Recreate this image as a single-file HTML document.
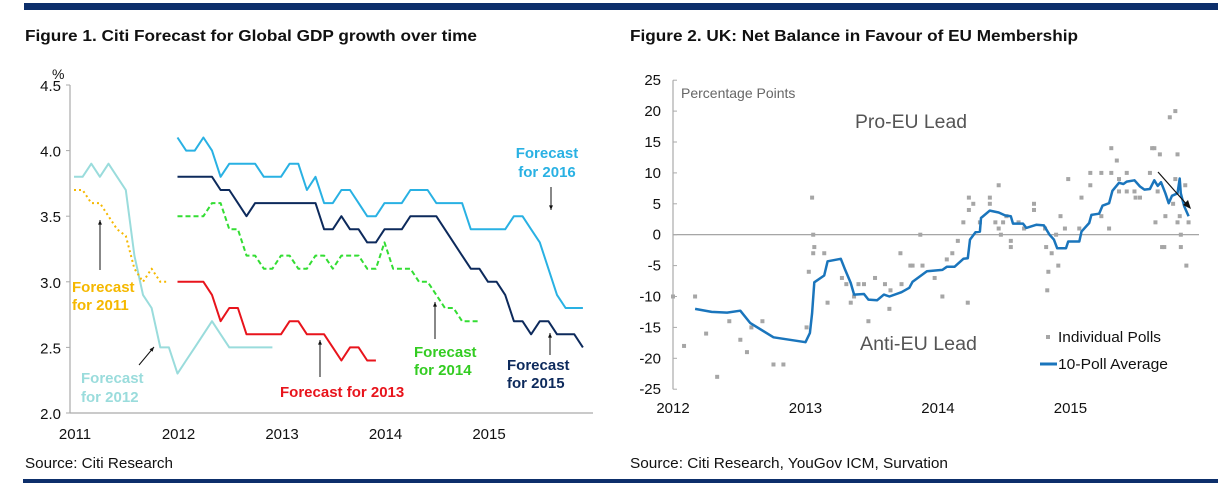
<!DOCTYPE html>
<html><head><meta charset="utf-8"><style>
html,body{margin:0;padding:0;background:#fff;}
svg{display:block;font-family:"Liberation Sans",Arial,sans-serif;}
</style></head><body>
<svg id="c" width="1218" height="490" viewBox="0 0 1218 490">
<rect x="24" y="3" width="1194" height="7" fill="#0d2f6b"/>
<rect x="23" y="479" width="1195" height="4" fill="#0d2f6b"/>
<text x="25" y="41" font-size="16" font-weight="bold" textLength="452" lengthAdjust="spacingAndGlyphs" fill="#111">Figure 1. Citi Forecast for Global GDP growth over time</text>
<text x="630" y="41" font-size="16" font-weight="bold" textLength="448" lengthAdjust="spacingAndGlyphs" fill="#111">Figure 2. UK: Net Balance in Favour of EU Membership</text>
<text x="25" y="468" font-size="15" textLength="148" lengthAdjust="spacingAndGlyphs" fill="#111">Source: Citi Research</text>
<text x="630" y="468" font-size="15" textLength="318" lengthAdjust="spacingAndGlyphs" fill="#111">Source: Citi Research, YouGov ICM, Survation</text>
<g id="left"></g>
<g id="right"></g>
</svg>
<script>
// ---- Figure 1 data (monthly values) ----
const yTicksL = [2.0, 2.5, 3.0, 3.5, 4.0, 4.5];
const yearsL = [2011, 2012, 2013, 2014, 2015];
const f2011 = [3.7,3.7,3.6,3.6,3.5,3.4,3.35,3.1,3.0,3.1,3.0,3.0]; // from Jan 2011
const f2012 = [3.8,3.8,3.9,3.8,3.9,3.8,3.7,3.2,2.9,2.8,2.5,2.5,2.3,2.4,2.5,2.6,2.7,2.6,2.5,2.5,2.5,2.5,2.5,2.5]; // from Jan 2011
const f2013 = [3.0,3.0,3.0,3.0,2.9,2.7,2.8,2.8,2.6,2.6,2.6,2.6,2.6,2.7,2.7,2.6,2.6,2.6,2.5,2.4,2.5,2.5,2.4,2.4]; // from Jan 2012
const f2014 = [3.5,3.5,3.5,3.5,3.6,3.6,3.4,3.4,3.2,3.2,3.1,3.1,3.2,3.2,3.1,3.1,3.2,3.2,3.1,3.2,3.2,3.2,3.1,3.1,3.3,3.1,3.1,3.1,3.0,3.0,2.9,2.8,2.8,2.7,2.7,2.7];
const f2015 = [3.8,3.8,3.8,3.8,3.8,3.7,3.7,3.6,3.5,3.6,3.6,3.6,3.6,3.6,3.6,3.6,3.6,3.4,3.4,3.5,3.4,3.4,3.3,3.3,3.4,3.4,3.4,3.5,3.5,3.5,3.5,3.4,3.3,3.2,3.1,3.1,3.0,3.0,2.9,2.7,2.7,2.6,2.7,2.7,2.6,2.6,2.6,2.5];
const f2016 = [4.1,4.0,4.0,4.1,4.0,3.8,3.9,3.9,3.9,3.9,3.8,3.8,3.8,3.9,3.9,3.7,3.8,3.6,3.6,3.7,3.7,3.6,3.5,3.5,3.6,3.6,3.6,3.7,3.7,3.7,3.6,3.6,3.6,3.6,3.4,3.4,3.4,3.4,3.4,3.5,3.5,3.4,3.3,3.1,2.9,2.8,2.8,2.8];

// ---- Figure 2 data ----
const yTicksR = [25,20,15,10,5,0,-5,-10,-15,-20,-25];
const yearsR = [2012, 2013, 2014, 2015];
const avgMonth = [2.0,3.5,4.9,6.1,7.0,9.1,12.0,12.4,12.6,12.8,13.7,14.0,15.2,15.6,16.1,16.4,17.3,17.7,18.5,19.1,19.6,20.7,21.4,21.7,23.0,24.4,24.8,25.5,26.3,26.7,26.9,27.4,27.8,27.9,28.7,29.5,30.1,30.6,30.8,31.7,32.0,32.9,33.6,34.1,34.5,34.8,35.6,35.8,36.8,37.0,37.7,37.9,38.6,38.9,39.5,39.8,40.4,40.8,41.1,41.8,42.3,42.7,43.2,43.6,43.9,44.2,44.6,44.9,45.2,45.7,45.9,46.0,46.3,46.7];
const avgValue = [-12.0,-12.5,-12.6,-12.3,-14.3,-16.6,-17.4,-15.9,-12.7,-7.7,-6.6,-4.3,-3.9,-5.7,-7.8,-9.7,-9.6,-10.5,-10.6,-9.7,-10.0,-9.3,-8.6,-7.6,-5.9,-5.7,-5.2,-5.2,-3.9,-3.8,-0.8,0.4,0.5,2.7,3.9,3.6,3.1,3.0,1.8,1.8,1.1,1.6,1.5,0,-0.8,-2.2,-2.2,-1.1,-1.1,0.5,1.9,3.2,3.4,4.7,5.1,7.1,8.4,8.2,8.6,8.8,7.8,7.3,7.4,8.8,7.9,8.5,6.7,5.1,6.3,6.7,9.1,6.7,4.6,3.0];
const pollMonth = [0,1.0,2.0,3.0,4.0,5.1,6.1,6.7,7.1,8.1,9.1,10.0,12.1,12.3,12.6,12.7,12.7,12.8,13.7,14.0,15.3,15.7,16.1,16.4,16.8,17.3,17.7,18.3,19.2,19.6,19.7,20.6,20.7,21.5,21.7,22.4,22.6,23.7,24.4,24.8,25.3,25.8,26.3,26.7,26.8,26.8,27.2,27.8,28.7,28.7,29.2,29.5,29.5,29.7,29.9,30.2,30.6,30.6,31.3,31.8,32.7,32.7,33.7,33.8,33.9,34.0,34.3,34.7,34.9,35.1,35.5,35.8,36.8,37.0,37.8,37.8,38.8,38.8,39.5,39.7,39.7,40.2,40.4,40.4,41.1,41.1,41.8,41.9,42.3,43.2,43.4,43.6,43.7,43.9,44.1,44.3,44.5,44.6,45.0,45.3,45.5,45.5,45.7,45.7,45.9,46.0,46.0,46.4,46.5,46.7];
const pollValue = [-10,-18,-10,-16,-23,-14,-17,-19,-15,-14,-21,-21,-15,-6,6,0,-3,-2,-3,-11,-7,-8,-11,-10,-8,-8,-14,-7,-8,-12,-9,-3,-8,-5,-5,0,-5,-7,-10,-4,-3,-1,2,-11,6,4,5,2,6,5,2,1,8,0,2,3,-1,-2,2,1,5,4,1,-2,-9,-6,-3,0,-5,3,1,9,1,6,10,8,10,3,1,14,10,12,9,7,10,7,7,6,6,10,14,14,2,7,13,-2,-2,3,19,5,20,9,13,2,3,0,-2,8,-5,2];

const NS = 'http://www.w3.org/2000/svg';
function mk(parent, tag, attrs, text){
  const e = document.createElementNS(NS, tag);
  for (const k in attrs) e.setAttribute(k, attrs[k]);
  if (text !== undefined) e.textContent = text;
  parent.appendChild(e);
  return e;
}

// ===== Figure 1 =====
const L = document.getElementById('left');
const xL = t => 74 + t * 103.5;          // t: years since Jan 2011
const yL = v => 413 - (v - 2) * 131.2;
let e;
e = mk(L,'line',{x1:70,y1:yL(4.5),x2:70,y2:413,stroke:'#aaa','stroke-width':1.2});
 
e = mk(L,'line',{x1:70,y1:413,x2:593,y2:413,stroke:'#aaa','stroke-width':1.2});
 
yTicksL.forEach(v=>{
  e = mk(L,'line',{x1:66,y1:yL(v),x2:70,y2:yL(v),stroke:'#aaa'});
   
  e = mk(L,'text',{x:61,y:yL(v)+6,'font-size':15,'text-anchor':'end',fill:'#111'},v.toFixed(1));
   
});
e = mk(L,'text',{x:52,y:79,'font-size':14,fill:'#111'},'%');
 
yearsL.forEach(y=>{
  e = mk(L,'text',{x:xL(y-2011)+1,y:439,'font-size':15,'text-anchor':'middle',fill:'#111'},String(y));
   
});
function series(arr, startYear, color, dash, name){
  const pts = arr.map((v,i)=>xL(startYear-2011 + i/12).toFixed(1)+','+yL(v).toFixed(1)).join(' ');
  const a = {points:pts,fill:'none',stroke:color,'stroke-width':2,'stroke-linejoin':'round'};
  if (dash) a['stroke-dasharray'] = dash;
  const p = mk(L,'polyline',a);
  
  
}
series(f2012, 2011, '#9adcdc', null, 'line-forecast-2012');
series(f2011, 2011, '#f5b800', '2,3', 'line-forecast-2011');
series(f2013, 2012, '#e8141c', null, 'line-forecast-2013');
series(f2014, 2012, '#33dd33', '5,3', 'line-forecast-2014');
series(f2015, 2012, '#0d2a5c', null, 'line-forecast-2015');
series(f2016, 2012, '#29b1e3', null, 'line-forecast-2016');

function label(x, ys, lines, color, anchor, name){
  const t = mk(L,'text',{x:x,'font-size':15,'font-weight':'bold',fill:color,'text-anchor':anchor});
  
  
  lines.forEach((s,i)=>{ mk(t,'tspan',{x:x,y:ys[i]},s); });
}
function arrow(x1,y1,x2,y2,name){
  const g = mk(L,'g',{});
  
  
  mk(g,'line',{x1:x1,y1:y1,x2:x2,y2:y2,stroke:'#111','stroke-width':1});
  const ang = Math.atan2(y2-y1,x2-x1), s=5;
  const p1 = [x2 - s*Math.cos(ang-0.4), y2 - s*Math.sin(ang-0.4)];
  const p2 = [x2 - s*Math.cos(ang+0.4), y2 - s*Math.sin(ang+0.4)];
  mk(g,'polygon',{points:`${x2},${y2} ${p1[0]},${p1[1]} ${p2[0]},${p2[1]}`,fill:'#111'});
}
label(547,[158,177],['Forecast','for 2016'],'#29b1e3','middle','label-forecast-2016');
arrow(551,187,551,210,'arrow-forecast-2016');
label(507,[370,388],['Forecast','for 2015'],'#0d2a5c','start','label-forecast-2015');
arrow(550,355,550,333,'arrow-forecast-2015');
label(414,[357,375],['Forecast','for 2014'],'#33cc22','start','label-forecast-2014');
arrow(435,339,435,302,'arrow-forecast-2014');
label(280,[397],['Forecast for 2013'],'#e8141c','start','label-forecast-2013');
arrow(320,377,320,340,'arrow-forecast-2013');
label(81,[383,402],['Forecast','for 2012'],'#9adcdc','start','label-forecast-2012');
arrow(139,365,154,347,'arrow-forecast-2012');
label(72,[292,310],['Forecast','for 2011'],'#f5b800','start','label-forecast-2011');
arrow(100,270,100,220,'arrow-forecast-2011');

// ===== Figure 2 =====
const R = document.getElementById('right');
const xR = m => 673 + m * 11.04;   // m: months since Jan 2012
const yR = v => 234.7 - v * 6.18;
e = mk(R,'line',{x1:673,y1:yR(25),x2:673,y2:yR(-25),stroke:'#aaa','stroke-width':1.2});
 
e = mk(R,'line',{x1:673,y1:yR(0),x2:1199,y2:yR(0),stroke:'#999','stroke-width':1.2});
 
yTicksR.forEach(v=>{
  e = mk(R,'line',{x1:673,y1:yR(v),x2:677,y2:yR(v),stroke:'#aaa'});
   
  e = mk(R,'text',{x:661,y:yR(v)+5,'font-size':15,'text-anchor':'end',fill:'#111'},String(v));
   
});
yearsR.forEach(y=>{
  e = mk(R,'text',{x:xR((y-2012)*12),y:413,'font-size':15,'text-anchor':'middle',fill:'#111'},String(y));
   
});
e = mk(R,'text',{x:681,y:98,'font-size':14,fill:'#666'},'Percentage Points');
 
e = mk(R,'text',{x:855,y:128,'font-size':19,fill:'#555',textLength:112,lengthAdjust:'spacingAndGlyphs'},'Pro-EU Lead');
 
e = mk(R,'text',{x:860,y:350,'font-size':19,fill:'#555',textLength:117,lengthAdjust:'spacingAndGlyphs'},'Anti-EU Lead');
 
pollMonth.forEach((m,i)=>{
  e = mk(R,'rect',{x:xR(m)-2,y:yR(pollValue[i])-2,width:4,height:4,fill:'#a6a6a6'});
   
});
e = mk(R,'polyline',{points:avgMonth.map((m,i)=>xR(m).toFixed(1)+','+yR(avgValue[i]).toFixed(1)).join(' '),fill:'none',stroke:'#1a75bc','stroke-width':2.5,'stroke-linejoin':'round'});
 
e = mk(R,'line',{x1:1158,y1:172,x2:1189,y2:207,stroke:'#111','stroke-width':1.2});
 
e = mk(R,'polygon',{points:'1191,209 1183,205 1188,200',fill:'#111'});
 
e = mk(R,'rect',{x:1046,y:335,width:4,height:4,fill:'#a6a6a6'});
 
e = mk(R,'text',{x:1058,y:342,'font-size':15,fill:'#111',textLength:103,lengthAdjust:'spacingAndGlyphs'},'Individual Polls');
 
e = mk(R,'line',{x1:1040,y1:364,x2:1057,y2:364,stroke:'#1a75bc','stroke-width':3});
 
e = mk(R,'text',{x:1058,y:369,'font-size':15,fill:'#111',textLength:110,lengthAdjust:'spacingAndGlyphs'},'10-Poll Average');
 
</script>
</body></html>
